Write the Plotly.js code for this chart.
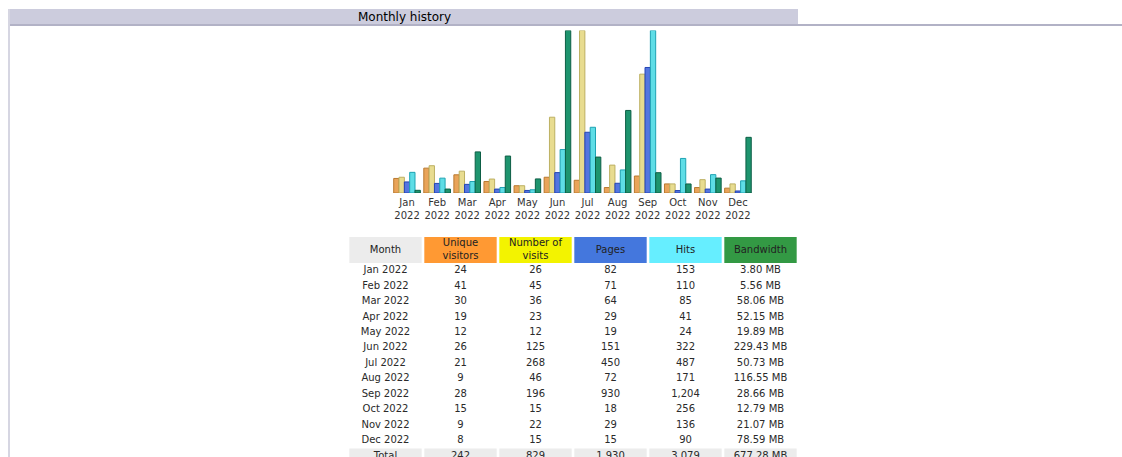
<!DOCTYPE html>
<html>
<head>
<meta charset="utf-8">
<script src="https://cdn.plot.ly/plotly-3.0.1.min.js"></script>
<style>
  html, body { margin: 0; padding: 0; background: #ffffff; overflow: hidden; }
  #chart { width: 1122px; height: 480px; }
</style>
</head>
<body>
<div id="chart"></div>
<script>
// ---- data ----
const months = ["Jan", "Feb", "Mar", "Apr", "May", "Jun", "Jul", "Aug", "Sep", "Oct", "Nov", "Dec"];
const year = "2022";
const uniqueVisitors = [24, 41, 30, 19, 12, 26, 21, 9, 28, 15, 9, 8];
const visits = [26, 45, 36, 23, 12, 125, 268, 46, 196, 15, 22, 15];
const pages = [82, 71, 64, 29, 19, 151, 450, 72, 930, 18, 29, 15];
const hits = [153, 110, 85, 41, 24, 322, 487, 171, 1204, 256, 136, 90];
const bandwidthMB = [3.80, 5.56, 58.06, 52.15, 19.89, 229.43, 50.73, 116.55, 28.66, 12.79, 21.07, 78.59];
const totalLabel = "Total";
const totalVisitors = 242, totalVisits = 829, totalPages = 1930, totalHits = 3079, totalBandwidthMB = 677.28;
const headerLabels = ["Month", "Unique<br>visitors", "Number of<br>visits", "Pages", "Hits", "Bandwidth"];
const headerColors = ["#ECECEC", "#FF9933", "#F3F300", "#4477DD", "#66EEFF", "#339944"];
const chartTitle = "Monthly history";

// ---- geometry helpers ----
const W = 1122, H = 480;
const px = x => x / W;
const py = y => 1 - y / H;

const barW = 0.177;
const off0 = -0.443;

function barTrace(name, y, axis, fill, edge, k) {
  return {
    type: "bar", name: name, x: months, y: y, xaxis: "x", yaxis: axis,
    width: barW, offset: off0 + k * barW,
    marker: { color: fill, line: { color: edge, width: 1 } }
  };
}

const traces = [
  barTrace("Unique visitors", uniqueVisitors, "y", "#E9A45A", "#B9782E", 0),
  barTrace("Number of visits", visits, "y", "#E8DC90", "#BDB062", 1),
  barTrace("Pages", pages, "y2", "#5476E0", "#2444B4", 2),
  barTrace("Hits", hits, "y2", "#5EDDE6", "#1FA3B3", 3),
  barTrace("Bandwidth", bandwidthMB, "y3", "#1E946E", "#0D5E45", 4)
];

// ---- table (drawn on its own invisible axes) ----
const fmt = n => n.toLocaleString("en-US");
const colIdx = headerLabels.map((_, i) => i);
const monthCells = months.map(m => m + " " + year).concat([totalLabel]);
const columns = [
  monthCells,
  uniqueVisitors.map(fmt).concat([fmt(totalVisitors)]),
  visits.map(fmt).concat([fmt(totalVisits)]),
  pages.map(fmt).concat([fmt(totalPages)]),
  hits.map(fmt).concat([fmt(totalHits)]),
  bandwidthMB.map(v => v.toFixed(2) + " MB").concat([totalBandwidthMB.toFixed(2) + " MB"])
];
const rowIdx = monthCells.map((_, i) => i);
const totalRow = monthCells.length - 1;

// header cells
traces.push({
  type: "bar", x: colIdx, y: colIdx.map(() => 1), base: 0, width: 0.965,
  xaxis: "x2", yaxis: "y4",
  marker: { color: headerColors, line: { width: 0 } }
});
traces.push({
  type: "scatter", mode: "text", x: colIdx, y: colIdx.map(() => 0.5),
  text: headerLabels, xaxis: "x2", yaxis: "y4", cliponaxis: false,
  textposition: "middle center",
  textfont: { family: "DejaVu Sans", size: 10, color: "#222222" }
});
// total row background
traces.push({
  type: "bar", x: colIdx, y: colIdx.map(() => 1), base: totalRow - 0.5, width: 0.965,
  xaxis: "x2", yaxis: "y5",
  marker: { color: "#ECECEC", line: { width: 0 } }
});
// body cells
columns.forEach((col, c) => {
  traces.push({
    type: "scatter", mode: "text", x: col.map(() => c), y: rowIdx, text: col,
    xaxis: "x2", yaxis: "y5", cliponaxis: false,
    textposition: "middle center",
    textfont: { family: "DejaVu Sans", size: 10, color: "#2A2A2A" }
  });
});

const rowH = 15.45;
const bodyTop = 263;

const layout = {
  width: W, height: H,
  margin: { l: 0, r: 0, t: 0, b: 0 },
  paper_bgcolor: "#FFFFFF", plot_bgcolor: "rgba(0,0,0,0)",
  showlegend: false,
  barmode: "overlay",
  font: { family: "DejaVu Sans", size: 10, color: "#333333" },
  xaxis: {
    domain: [px(392), px(753)],
    type: "category",
    range: [-0.5, 11.5],
    tickvals: months,
    ticktext: months.map(m => m + "<br>" + year),
    showgrid: false, zeroline: false, showline: false, ticks: "",
    ticklabelstandoff: 2,
    tickfont: { family: "DejaVu Sans", size: 10, color: "#333333" },
    fixedrange: true
  },
  yaxis: {
    domain: [py(193), py(30.5)],
    range: [0, Math.max(...visits, ...uniqueVisitors)],
    visible: false, fixedrange: true
  },
  yaxis2: {
    overlaying: "y",
    range: [0, Math.max(...hits, ...pages)],
    visible: false, fixedrange: true
  },
  yaxis3: {
    overlaying: "y",
    range: [0, Math.max(...bandwidthMB)],
    visible: false, fixedrange: true
  },
  xaxis2: {
    domain: [px(348), px(798)], anchor: "y4",
    range: [-0.5, 5.5], visible: false, fixedrange: true
  },
  yaxis4: {
    domain: [py(263), py(237)], anchor: "x2",
    range: [0, 1], visible: false, fixedrange: true
  },
  yaxis5: {
    domain: [0, py(bodyTop)], anchor: "x2",
    range: [(H - bodyTop) / rowH - 0.5, -0.5], visible: false, fixedrange: true
  },
  shapes: [
    { type: "rect", xref: "paper", yref: "paper", x0: px(10), x1: px(798), y0: py(24), y1: py(9),
      fillcolor: "#CCCCDD", line: { width: 0 }, layer: "below" },
    { type: "rect", xref: "paper", yref: "paper", x0: px(10), x1: px(1122), y0: py(26), y1: py(24),
      fillcolor: "#B2B2C6", line: { width: 0 }, layer: "below" },
    { type: "rect", xref: "paper", yref: "paper", x0: px(8), x1: px(10), y0: 0, y1: py(9),
      fillcolor: "#D6D6E2", line: { width: 0 }, layer: "below" }
  ],
  annotations: [
    { xref: "paper", yref: "paper", x: px(404), y: py(17), text: chartTitle, showarrow: false,
      xanchor: "center", yanchor: "middle",
      font: { family: "DejaVu Sans", size: 12, color: "#000000" } }
  ]
};

Plotly.newPlot("chart", traces, layout, { displayModeBar: false, staticPlot: true });
</script>
</body>
</html>
